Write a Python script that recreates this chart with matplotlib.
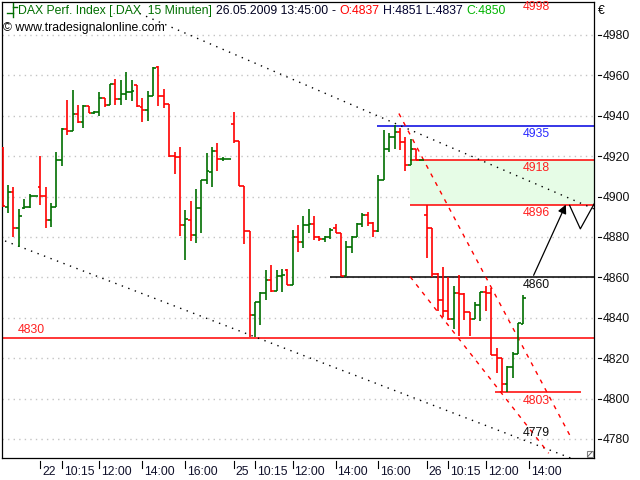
import matplotlib
matplotlib.use('Agg')
import matplotlib.pyplot as plt
import matplotlib.transforms as mtransforms
from matplotlib.patches import Rectangle

plt.rcParams['font.family'] = ['Liberation Sans', 'DejaVu Sans']

# 15 minute OHLC bars, DAX, 21.05. late session .. 26.05.2009 13:45
opens = [4924, 4895, 4902, 4884.5, 4894.5, 4895, 4900.5, 4904.5, 4900.5, 4888.5,
         4895, 4918, 4933.5, 4932.5, 4941, 4937, 4945, 4941.5, 4942, 4949,
         4945.5, 4955.5, 4948.5, 4951, 4951.5, 4955, 4944.5, 4943, 4950, 4964,
         4950, 4946, 4920, 4919.5, 4886, 4888.5, 4881, 4894.5, 4908, 4912,
         4922.5, 4918.5, 4918.5, 4936, 4927.5, 4905, 4883, 4841.5, 4848, 4852,
         4858.5, 4853, 4860.5, 4863.5, 4856, 4880, 4877.5, 4886, 4886.5, 4880,
         4879, 4880, 4884.5, 4882, 4860.5, 4875, 4880, 4886.5, 4891, 4887,
         4883, 4908, 4923.5, 4929.5, 4932, 4927, 4915.5, 4923.5, 4918, 4891,
         4884.5, 4861.5, 4849, 4843.5, 4839.5, 4852, 4851.5, 4843, 4839.5, 4846.5,
         4852.5, 4852, 4821.5, 4820, 4807, 4815.5, 4822, 4837]
highs = [4924.5, 4905.5, 4904.5, 4894, 4899, 4901, 4900.5, 4920, 4904.5, 4897,
         4922, 4934, 4948, 4952.5, 4945.5, 4945.5, 4945, 4942.5, 4951.5, 4949,
         4955.5, 4958, 4957.5, 4961.5, 4957.5, 4955, 4949, 4952, 4964, 4964.5,
         4953, 4946, 4922, 4924.5, 4893.5, 4898, 4903.5, 4908, 4921.5, 4924.5,
         4926.5, 4919.5, 4918.5, 4942, 4927.5, 4905, 4883, 4848, 4852.5, 4863.5,
         4866, 4863.5, 4864, 4864, 4883.5, 4886, 4890.5, 4894, 4890.5, 4880.5,
         4880.5, 4884.5, 4886.5, 4882, 4878, 4880.5, 4887, 4892, 4892.5, 4887.5,
         4910.5, 4933, 4931.5, 4935.5, 4934, 4929.5, 4928.5, 4923.5, 4918, 4896,
         4884.5, 4862, 4865, 4860, 4855.5, 4861, 4852, 4843, 4848, 4852.5,
         4855.5, 4854.5, 4825, 4820, 4816, 4823, 4837.5, 4851]
lows = [4895, 4892, 4880, 4875, 4894, 4894.5, 4900.5, 4896, 4884.5, 4885,
        4895, 4915, 4930.5, 4932.5, 4936.5, 4934, 4941.5, 4941, 4940, 4944.5,
        4945.5, 4945.5, 4945.5, 4948, 4947.5, 4944.5, 4937, 4937.5, 4950, 4945,
        4944, 4919.5, 4911, 4880.5, 4868.5, 4878, 4877, 4882, 4906, 4904.5,
        4912.5, 4917.5, 4918.5, 4926.5, 4905, 4876.5, 4830.5, 4830.5, 4836.5, 4849,
        4852.5, 4853, 4852.5, 4856, 4856, 4872.5, 4874.5, 4882, 4878.5, 4878,
        4877.5, 4879, 4882, 4860.5, 4860.5, 4872, 4880, 4885, 4885.5, 4880,
        4882.5, 4908, 4922, 4923.5, 4923, 4912.5, 4915.5, 4918, 4918, 4869.5,
        4860, 4843.5, 4840.5, 4839, 4834.5, 4831, 4839, 4831, 4839.5, 4838.5,
        4843.5, 4821.5, 4812.5, 4803, 4803, 4810, 4822, 4837]
closes = [4895.5, 4902, 4884.5, 4890.5, 4895, 4900.5, 4900.5, 4900.5, 4888.5, 4895,
          4918, 4933.5, 4932.5, 4941, 4937, 4945, 4941.5, 4942, 4949, 4945.5,
          4955.5, 4948.5, 4951, 4951.5, 4952, 4945, 4943, 4950, 4963.5, 4950,
          4946, 4920, 4919.5, 4886, 4889, 4881, 4894.5, 4908, 4912.5, 4922.5,
          4918.5, 4918.5, 4918.5, 4927.5, 4905, 4883, 4841.5, 4848, 4852, 4858.5,
          4853, 4860.5, 4861, 4856, 4880, 4877.5, 4886, 4886.5, 4880, 4879,
          4880, 4883.5, 4882, 4860.5, 4875, 4880, 4886.5, 4891, 4887, 4883,
          4908, 4923.5, 4929.5, 4932, 4927, 4915.5, 4923.5, 4918, 4918, 4884.5,
          4861.5, 4849, 4843.5, 4839.5, 4852, 4851.5, 4843, 4839.5, 4846.5, 4852.5,
          4852, 4821.5, 4820, 4807, 4815.5, 4822, 4837.5, 4850]

tick_idx = [7, 11, 18, 26, 34, 43, 47, 54, 62, 70, 79, 83, 90, 98]
tick_lab = ['22', '10:15', '12:00', '14:00', '16:00',
            '25', '10:15', '12:00', '14:00', '16:00',
            '26', '10:15', '12:00', '14:00']
y_ticks = [4780, 4800, 4820, 4840, 4860, 4880, 4900, 4920, 4940, 4960, 4980]

# horizontal levels drawn on the chart
level_vals = [4935, 4918, 4896, 4860, 4830, 4803]
level_from = [69.7, 75.9, 75.9, 60.9, -1, 91.7]
level_to = [111, 111, 111, 111, 111, 107.7]
level_cols = ['#0000e0', '#ff0000', '#ff0000', '#000000', '#ff0000', '#ff0000']

RED = '#ff0000'
GREEN = '#006e00'
FS = 8.8

fig = plt.figure(figsize=(6.4, 4.8), dpi=100)
ax = fig.add_axes([1.7 / 640, 21.7 / 480, 592.6 / 640, 456.3 / 480])
ax.set_xlim(-0.19, 110.2)
ax.set_ylim(4770.4, 4996.3)

# grid
ax.set_yticks(y_ticks)
ax.grid(axis='y', color='#c4c4c4', linestyle=(0, (1, 3)), lw=1)
ax.set_axisbelow(True)

# support/resistance zone
ax.fill_between([75.9, 111], 4896, 4918, color='#e6fce6', zorder=1, lw=0)

for v, a, b, c in zip(level_vals, level_from, level_to, level_cols):
    ax.hlines(v, a, b, colors=c, lw=1.1, zorder=2)

# trend lines
ax.plot([25.5, 110.2], [4990.6, 4893.8], color='black', lw=1, linestyle=(0, (1, 4)), zorder=2)
ax.plot([0.43, 106.5], [4878.0, 4769.8], color='black', lw=1, linestyle=(0, (1, 4)), zorder=2)
ax.plot([73.8, 105.9], [4941.1, 4780.5], color=RED, lw=1, linestyle=(0, (3, 4)), zorder=2)
ax.plot([75.9, 101.7], [4860.3, 4772.9], color=RED, lw=1, linestyle=(0, (3, 4)), zorder=2)

# projection arrow
ax.annotate('', xy=(104.9, 4896), xytext=(98.9, 4861),
            arrowprops=dict(arrowstyle='-|>', color='black', lw=0.9, mutation_scale=13,
                            shrinkA=0, shrinkB=0), zorder=4)
ax.plot([105.6, 107.6, 110.2], [4895.6, 4884, 4896.5], color='black', lw=0.9, zorder=4)

# OHLC bars
for i in range(len(opens)):
    c = GREEN if closes[i] >= opens[i] else RED
    ax.vlines(i, lows[i], highs[i], colors=c, lw=1.2, zorder=3)
    ax.hlines(opens[i], i - 0.5, i, colors=c, lw=1.2, zorder=3)
    ax.hlines(closes[i], i, i + 0.5, colors=c, lw=1.2, zorder=3)

# level labels
lab_x = 99.4
for txt, v, col in [('4935', 4935, '#2a2aff'), ('4918', 4918, '#ff2020'),
                    ('4896', 4896, '#ff2020'), ('4860', 4860, '#101010'),
                    ('4803', 4803, '#ff2020')]:
    ax.annotate(txt, (lab_x, v), xytext=(0, -1.5), textcoords='offset points',
                ha='center', va='top', color=col, fontsize=FS)
ax.annotate('4830', (5.4, 4830), xytext=(0, 1.5), textcoords='offset points',
            ha='center', va='bottom', color='#ff2020', fontsize=FS)
ax.text(lab_x, 4783, '4779', ha='center', va='center', color='#101010', fontsize=FS)
ax.text(lab_x, 4993.6, '4998', ha='center', va='center', color='#ff2020', fontsize=FS)

# axes styling
for s in ax.spines.values():
    s.set_linewidth(0.9)
ax.yaxis.tick_right()
ax.tick_params(axis='y', length=0, pad=6, labelsize=FS, labelcolor='#101010')
ax.set_xticks(tick_idx)
ax.set_xticklabels(tick_lab, ha='left')
ax.tick_params(axis='x', length=0, pad=5.5, labelsize=FS, labelcolor='#10102a')
offset = mtransforms.ScaledTranslation(2 / 100, 0, fig.dpi_scale_trans)
for lab in ax.get_xticklabels():
    lab.set_transform(lab.get_transform() + offset)

tx = mtransforms.blended_transform_factory(ax.transData, ax.transAxes)
for t in tick_idx:
    ax.plot([t, t], [-0.007, -0.0213], transform=tx, color='black', lw=0.8, clip_on=False)
ty = mtransforms.blended_transform_factory(ax.transAxes, ax.transData)
for v in y_ticks:
    ax.plot([1.0057, 1.0113], [v, v], transform=ty, color='black', lw=0.8, clip_on=False)

fig.text(598 / 640, 1 - 11 / 480, '€', fontsize=FS, va='center', ha='left', color='black')

# corner icon
ax.add_patch(Rectangle((0.988, 0.003), 0.009, 0.012, transform=ax.transAxes,
                       facecolor='white', edgecolor='#808080', lw=0.8, zorder=5))
ax.plot([0.989, 0.996], [0.004, 0.014], transform=ax.transAxes, color='#606060', lw=0.7, zorder=6)

# header
fig.lines.append(plt.Line2D([12.7 / 640] * 2, [1 - 3 / 480, 1 - 17 / 480], color=GREEN, lw=1, transform=fig.transFigure))
fig.lines.append(plt.Line2D([7.3 / 640, 12.7 / 640], [1 - 13.3 / 480] * 2, color=GREEN, lw=1, transform=fig.transFigure))
fig.lines.append(plt.Line2D([12.7 / 640, 16.7 / 640], [1 - 7.3 / 480] * 2, color=GREEN, lw=1, transform=fig.transFigure))

renderer = fig.canvas.get_renderer()
parts = [('DAX Perf. Index [.DAX  15 Minuten]', '#006e00'), ('26.05.2009 13:45:00', '#000020'),
         ('-', '#000020'), ('O:4837', '#ff0000'), ('H:4851 L:4837', '#000030'), ('C:4850', '#00b400')]
x = 18.3
for s, c in parts:
    t = fig.text(x / 640, 1 - 11 / 480, s, color=c, fontsize=FS, va='center', ha='left')
    bb = t.get_window_extent(renderer=renderer)
    x = bb.x1 + 3.6
fig.text(2.7 / 640, 1 - 28 / 480, '© www.tradesignalonline.com', color='black', fontsize=FS,
         va='center', ha='left')

fig.savefig('out.png', dpi=100)
